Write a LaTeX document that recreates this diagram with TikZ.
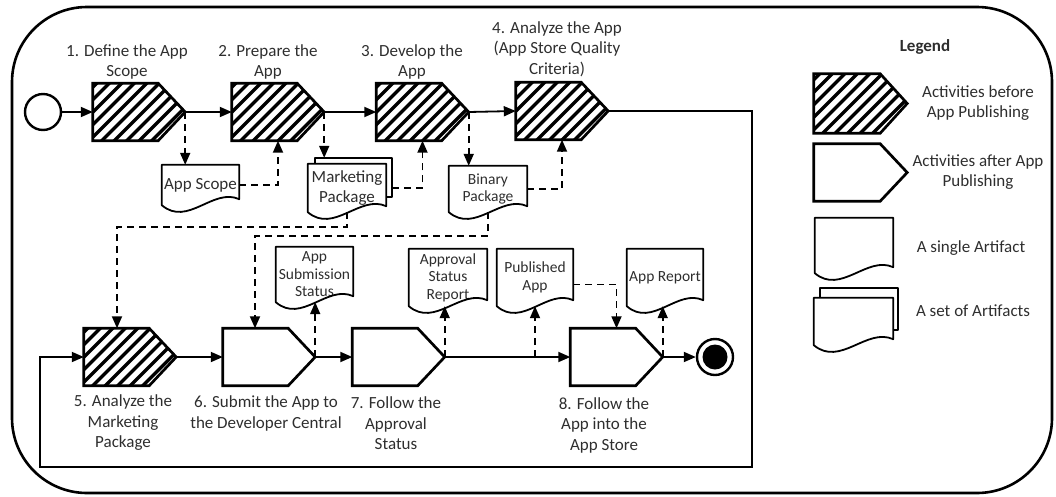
\documentclass[tikz,border=0pt]{standalone}
\usepackage{fontspec}
\setmainfont{Carlito}
\usetikzlibrary{arrows.meta,calc}

% outline of a document (artifact) with a wavy bottom edge, drawn round a node
\newcommand\artoutline[1]{%
  \draw[artline] (#1.north west) -- (#1.south west)
    .. controls ($(#1.south west)!0.333!(#1.south east)+(0,22)$)
       and ($(#1.south west)!0.667!(#1.south east)+(0,-18)$)
    .. ($(#1.south east)+(0,-6)$) -- (#1.north east) -- cycle;}

% activity: a pentagon pointing east, filling the node's box
\newcommand\actoutline[1]{%
  \draw[actline] (#1.north west) -- ($(#1.north east)+(-27,0)$) -- (#1.east)
    -- ($(#1.south east)+(-27,0)$) -- (#1.south west) -- cycle;}
% diagonal hatching inside an activity
\newcommand\acthatch[1]{%
  \begin{scope}
    \clip (#1.north west) -- ($(#1.north east)+(-27,0)$) -- (#1.east)
      -- ($(#1.south east)+(-27,0)$) -- (#1.south west) -- cycle;
    \foreach \k in {-70,-57.5,...,100}
      \draw[line width=3.5pt] ($(#1.south west)+(\k,4)$) -- ++(90,-90);
  \end{scope}}

\tikzset{
  act/.style={draw=none, minimum width=92, minimum height=57, inner sep=0pt},
  actline/.style={line width=2.7pt, line join=miter},
  flow/.style={line width=1.8pt,-{Triangle[length=12pt,width=10pt]}},
  dflow/.style={line width=1.8pt, dash pattern=on 7pt off 5pt,
    -{Triangle[length=12pt,width=10pt]}},
  artline/.style={line width=1.8pt, line join=round},
  art/.style={draw=none, inner sep=0pt, align=center, text=black!82,
    font=\fontsize{17}{20}\selectfont},
  smallart/.style={art, font=\fontsize{15.5}{17.5}\selectfont},
  lbl/.style={align=center, inner sep=0pt, text=black!82,
    font=\fontsize{17}{20.5}\selectfont},
}

\begin{document}
\begin{tikzpicture}[x=1pt,y=-1pt]
\useasboundingbox (0,0) rectangle (1056,496);

% frame
\draw[line width=2.6pt, rounded corners=75pt] (12,7) rectangle (1052,493);

% events
\node[circle, draw, line width=2.4pt, minimum size=36, inner sep=0pt] (start) at (43,112) {};
\node[circle, draw, line width=2.4pt, minimum size=36, inner sep=0pt] (end) at (715,357) {};
\node[circle, fill, minimum size=25, inner sep=0pt] (endin) at (end) {};

% activities
\node[act] (a1) at (139,112) {};
\node[act] (a2) at (278,112) {};
\node[act] (a3) at (422.5,112) {};
\node[act] (a4) at (562,111) {};
\node[act] (a5) at (130,357) {};
\node[act] (a6) at (269,357) {};
\node[act] (a7) at (398.5,357) {};
\node[act] (a8) at (616.5,357) {};
% before publishing: hatched
\foreach \n in {a1,a2,a3,a4,a5} {\acthatch{\n}}
\foreach \n in {a1,a2,a3,a4,a5,a6,a7,a8} {\actoutline{\n}}

% activity labels
\node[lbl] (t1) at (127,62) {1. Define the App\\Scope};
\node[lbl] (t2) at (268,62) {2. Prepare the\\App};
\node[lbl] (t3) at (412,62) {3. Develop the\\App};
\node[lbl] (t4) at (557,49) {4. Analyze the App\\(App Store Quality\\Criteria)};
\node[lbl] (t5) at (123,423) {5. Analyze the\\Marketing\\Package};
\node[lbl] (t6) at (266,413.5) {6. Submit the App to\\the Developer Central};
\node[lbl] (t7) at (396,423.5) {7. Follow the\\Approval\\Status};
\node[lbl] (t8) at (604,425) {8. Follow the\\App into the\\App Store};

% artifacts
\node[art, minimum width=77, minimum height=40] (scope) at (200.5,185) {App Scope};
\node[art, minimum width=78, minimum height=48] (mkt) at (347,188) {Marketing\\Package};
\node[smallart, minimum width=78, minimum height=46] (bin) at (488,189) {Binary\\Package};
\node[smallart, minimum width=77, minimum height=55] (sub) at (314.5,274.5) {App\\Submission\\Status};
\node[smallart, minimum width=78, minimum height=57] (apr) at (448,277.5) {Approval\\Status\\Report};
\node[smallart, minimum width=76, minimum height=57] (pub) at (535,277.5) {Published\\App};
\node[smallart, minimum width=76, minimum height=57] (rep) at (665,277.5) {App Report};

\foreach \n in {scope,mkt,bin,sub,apr,pub,rep} {\artoutline{\n}}
\coordinate (mktback) at ($(mkt.north east)+(6,-6)$);
\draw[artline] ($(mkt.north west)+(7,0)$) |- (mktback) -- ($(mktback)+(0,39)$) -- ++(-6,0);

% sequence flow
\draw[flow] (start.east) -- (a1.west);
\draw[flow] (a1.east) -- (a2.west);
\draw[flow] (a2.east) -- (a3.west);
\draw[flow] (a3.east) -- (a4.west);
\coordinate (loopR) at (752,467);
\coordinate (loopL) at (40,467);
\draw[flow] (a4.east) -| (loopR) -- (loopL) |- (a5.west);
\draw[flow] (a5.east) -- (a6.west);
\draw[flow] (a6.east) -- (a7.west);
\draw[flow] (a7.east) -- (a8.west);
\draw[flow] (a8.east) -- (end.west);

% data associations
\draw[dflow] (a1.east) -- (a1.east |- scope.north);
\draw[dflow] (scope.east) -| (a2.south);
\draw[dflow] (a2.east) -- (a2.east |- mktback);
\draw[dflow] (mktback |- mkt.east) -| (a3.south);
\draw[dflow] (a3.east) -- (a3.east |- bin.north);
\draw[dflow] (bin.east) -| (a4.south);
\coordinate (j1) at (117,227);
\draw[dflow] (mkt.south) |- (j1) -- (j1 |- a5.north);
\coordinate (j2) at (255,236);
\draw[dflow] (bin.south) |- (j2) -- (j2 |- a6.north);
\draw[dflow] (a6.east) -- (a6.east |- sub.south);
\draw[dflow] (a7.east) -- (a7.east |- apr.south);
\draw[dflow] (pub.south |- a8.west) -- (pub.south);
\draw[dflow] ($(pub.east)+(0,7)$) -| (a8.north);
\draw[dflow] (a8.east) -- (a8.east |- rep.south);

% legend
\node[lbl, font=\fontsize{17}{20}\selectfont\bfseries] (legend) at (925,47) {Legend};
\node[act, minimum height=59, minimum width=93] (l1) at (860.5,103.5) {};
\node[act, minimum width=93] (l2) at (860.5,172.5) {};
\acthatch{l1}
\actoutline{l1}
\actoutline{l2}
\node[art, minimum width=78, minimum height=55] (lsingle) at (854,245.5) {};
\node[art, minimum width=79, minimum height=47] (lset) at (853.5,321.5) {};
\artoutline{lsingle}
\artoutline{lset}
\coordinate (lsetback) at ($(lset.north east)+(5,-10)$);
\draw[artline] ($(lset.north west)+(6,0)$) |- (lsetback) -- ($(lsetback)+(0,42)$) -- ++(-5,0);
\node[lbl] (lt1) at (978,103) {Activities before\\App Publishing};
\node[lbl] (lt2) at (978,172) {Activities after App\\Publishing};
\node[lbl] (lt3) at (971,248) {A single Artifact};
\node[lbl] (lt4) at (973,311) {A set of Artifacts};
\end{tikzpicture}
\end{document}
